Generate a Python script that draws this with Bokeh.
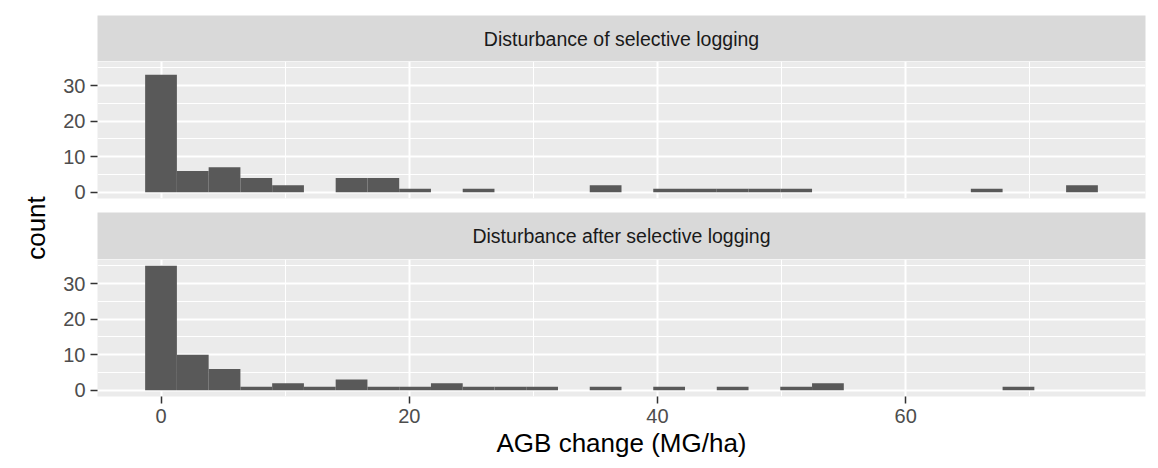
import numpy as np
from bokeh.plotting import figure
from bokeh.layouts import row, column
from bokeh.models import Range1d, FixedTicker, Grid
from bokeh.core.properties import value
from bokeh.embed import file_html
from bokeh.resources import INLINE

# ---------------- data ----------------
panel_titles = ["Disturbance of selective logging", "Disturbance after selective logging"]
counts_of = [33, 6, 7, 4, 2, 0, 4, 4, 1, 0, 1, 0, 0, 0, 2, 0, 1, 1, 1, 1, 1, 0, 0, 0, 0, 0, 1, 0, 0, 2]
counts_after = [35, 10, 6, 1, 2, 1, 3, 1, 1, 2, 1, 1, 1, 0, 1, 0, 1, 0, 1, 0, 1, 2, 0, 0, 0, 0, 0, 1, 0, 0]
x_min, x_max, n_bins = 0.0, 74.2, 30
x_ticks = [0, 20, 40, 60]
x_minor = [10, 30, 50, 70]
y_ticks = [0, 10, 20, 30]
y_minor = [5, 15, 25, 35]
x_title = "AGB change (MG/ha)"
y_title = "count"

# ---------------- bins (ggplot bins=30 rule) ----------------
binwidth = (x_max - x_min) / (n_bins - 1)
centers = x_min + binwidth * np.arange(n_bins)
left = centers - binwidth / 2
right = centers + binwidth / 2
lo, hi = left[0], right[-1]
pad = 0.05 * (hi - lo)
xr = Range1d(lo - pad, hi + pad)
ymax = max(max(counts_of), max(counts_after))
yr = Range1d(-0.05 * ymax, ymax * 1.05)

FONT = "Liberation Sans"
BL, BR = 44, 13
FRAME_W = 1048
W = BL + FRAME_W + BR
PANEL_H = 137
PANEL_BG = "#EBEBEB"
STRIP_BG = "#D9D9D9"


def style_axis(ax):
    ax.axis_line_color = None
    ax.major_tick_line_color = "#333333"
    ax.major_tick_line_width = 1.5
    ax.major_tick_out = 7
    ax.major_tick_in = 0
    ax.minor_tick_line_color = None
    ax.major_label_text_font = FONT
    ax.major_label_text_font_size = "20px"
    ax.major_label_text_color = "#4D4D4D"
    ax.major_label_standoff = 5


def make_strip(label, top_border, frame_h):
    s = figure(width=W, height=frame_h + top_border, x_range=xr, y_range=Range1d(0, 1),
               output_backend="svg", toolbar_location=None, title=None,
               x_axis_location=None, y_axis_location=None,
               min_border_left=BL, min_border_right=BR, min_border_top=top_border, min_border_bottom=0,
               background_fill_color=STRIP_BG, border_fill_color="white", outline_line_color=None)
    s.grid.visible = False
    s.text(x=[(xr.start + xr.end) / 2], y=[0.5], text=[label], text_align="center",
           text_baseline="middle", text_font=value(FONT), text_font_size="19.5px", text_color="#1A1A1A")
    return s


def make_panel(counts, show_x, bottom_border):
    p = figure(width=W, height=PANEL_H + bottom_border, x_range=xr, y_range=yr,
               output_backend="svg", toolbar_location=None, title=None,
               x_axis_location="below" if show_x else None, y_axis_location="left",
               min_border_left=BL, min_border_right=BR, min_border_top=0, min_border_bottom=bottom_border,
               background_fill_color=PANEL_BG, border_fill_color="white", outline_line_color=None)
    p.xgrid.visible = False
    p.ygrid.visible = False
    xt = FixedTicker(ticks=x_ticks, minor_ticks=x_minor)
    yt = FixedTicker(ticks=y_ticks, minor_ticks=y_minor)
    for dim, tk in ((0, xt), (1, yt)):
        p.add_layout(Grid(dimension=dim, ticker=tk, grid_line_color="white", grid_line_width=2,
                          minor_grid_line_color="white", minor_grid_line_width=1))
    p.yaxis.ticker = yt
    style_axis(p.yaxis[0])
    if show_x:
        p.xaxis.ticker = xt
        style_axis(p.xaxis[0])
        p.xaxis.axis_label = x_title
        p.xaxis.axis_label_text_font = FONT
        p.xaxis.axis_label_text_font_size = "26px"
        p.xaxis.axis_label_text_font_style = "normal"
        p.xaxis.axis_label_text_color = "black"
        p.xaxis.axis_label_standoff = 2
    p.quad(left=left, right=right, bottom=0, top=counts, fill_color="#595959", line_color=None)
    return p


s1 = make_strip(panel_titles[0], 15, 46)
p1 = make_panel(counts_of, False, 14)
s2 = make_strip(panel_titles[1], 0, 47)
p2 = make_panel(counts_after, True, 64)

TOTAL_H = 15 + 46 + PANEL_H + 14 + 47 + PANEL_H + 64
CW = 53
cf = figure(width=CW, height=TOTAL_H, x_range=Range1d(0, CW), y_range=Range1d(0, TOTAL_H),
            output_backend="svg", toolbar_location=None, title=None,
            x_axis_location=None, y_axis_location=None, min_border=0,
            outline_line_color=None, border_fill_color="white", background_fill_color="white")
cf.grid.visible = False
cf.text(x=[35], y=[TOTAL_H - 227.5], text=[y_title], angle=np.pi / 2, text_align="center",
        text_baseline="middle", text_font=value(FONT), text_font_size="26px", text_color="black")

layout = row(cf, column(s1, p1, s2, p2))

open("out.html", "w").write(file_html(layout, INLINE))
